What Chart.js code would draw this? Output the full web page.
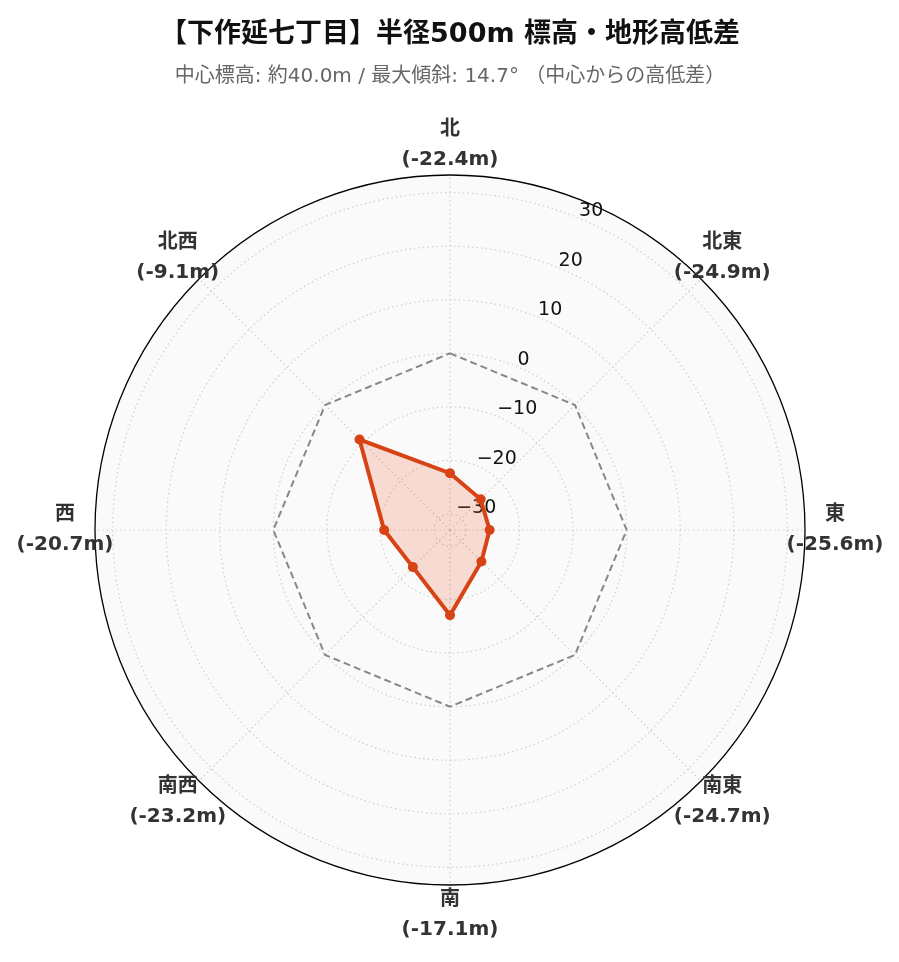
<!DOCTYPE html>
<html lang="ja">
<head>
<meta charset="utf-8">
<title>下作延七丁目 標高・地形高低差</title>
<script src="https://cdn.jsdelivr.net/npm/chart.js@4.4.1/dist/chart.umd.min.js"></script>
<style>
  html, body { margin: 0; padding: 0; background: #fff; }
  #wrap { width: 899px; height: 962px; }
</style>
</head>
<body>
<div id="wrap"><canvas id="radarChart"></canvas></div>
<script>
// 方角と中心からの高低差 (m)
const directions = ['北', '北東', '東', '南東', '南', '南西', '西', '北西'];
const heightDiffs = [-22.4, -24.9, -25.6, -24.7, -17.1, -23.2, -20.7, -9.1];
const baseLine = [0, 0, 0, 0, 0, 0, 0, 0];
const tickValues = [-30, -20, -10, 0, 10, 20, 30];
const rMin = -33;
const rMax = 33.3;

const FONT = '"DejaVu Sans", "Noto Sans CJK JP", sans-serif';

function tickText(v) {
    return v < 0 ? '\u2212' + Math.abs(v) : String(v);
}

// 目盛りラベル (22.5度の位置に描く)
const tickLabelPlugin = {
    id: 'tickLabels',
    beforeDatasetsDraw(chart) {
        const scale = chart.scales.r;
        const ctx = chart.ctx;
        ctx.save();
        ctx.font = '19px ' + FONT;
        ctx.fillStyle = '#111';
        ctx.textAlign = 'left';
        ctx.textBaseline = 'alphabetic';
        tickValues.forEach(v => {
            const p = scale.getPointPosition(0, scale.getDistanceFromCenterForValue(v), Math.PI / 8);
            ctx.fillText(tickText(v), p.x, p.y - 2);
        });
        ctx.restore();
    }
};

// 方角ラベル
const dirLabelPlugin = {
    id: 'dirLabels',
    afterDatasetsDraw(chart) {
        const scale = chart.scales.r;
        const ctx = chart.ctx;
        ctx.save();
        ctx.font = 'bold 20px ' + FONT;
        ctx.fillStyle = '#333';
        ctx.textAlign = 'center';
        ctx.textBaseline = 'middle';
        directions.forEach((d, i) => {
            const p = scale.getPointPosition(i, scale.drawingArea + 30);
            ctx.fillText(d, p.x, p.y - 15);
            ctx.fillText('(' + heightDiffs[i].toFixed(1) + 'm)', p.x, p.y + 15);
        });
        ctx.restore();
    }
};

const ctx = document.getElementById('radarChart').getContext('2d');
new Chart(ctx, {
    type: 'radar',
    data: {
        labels: directions,
        datasets: [
            {
                label: '高低差',
                data: heightDiffs,
                borderColor: '#d84315',
                backgroundColor: 'rgba(235, 80, 35, 0.18)',
                borderWidth: 4,
                pointRadius: 5,
                pointBackgroundColor: '#d84315',
                pointBorderWidth: 0,
                fill: 'start'
            },
            {
                label: '中心標高',
                data: baseLine,
                borderColor: '#888888',
                borderWidth: 2,
                borderDash: [7, 4],
                pointRadius: 0,
                fill: false
            }
        ]
    },
    options: {
        responsive: true,
        maintainAspectRatio: false,
        animation: false,
        layout: {
            padding: { top: 0, left: 95, right: 94, bottom: 77 }
        },
        plugins: {
            legend: { display: false },
            tooltip: { enabled: false },
            title: {
                display: true,
                text: '【下作延七丁目】半径500m 標高・地形高低差',
                color: '#111',
                font: { family: FONT, size: 27, weight: 'bold' },
                padding: { top: 18.8, bottom: 0 }
            },
            subtitle: {
                display: true,
                text: '中心標高: 約40.0m / 最大傾斜: 14.7° （中心からの高低差）',
                color: '#666',
                font: { family: FONT, size: 20 },
                padding: { top: 13.8, bottom: 86 }
            }
        },
        scales: {
            r: {
                min: rMin,
                max: rMax,
                startAngle: 0,
                backgroundColor: '#fafafa',
                afterBuildTicks: scale => {
                    scale.ticks = tickValues.concat([rMax]).map(v => ({ value: v }));
                },
                ticks: { display: false },
                pointLabels: { display: false },
                grid: {
                    circular: true,
                    color: c => c.tick && c.tick.value === rMax ? '#000' : '#cfcfcf',
                    lineWidth: c => c.tick && c.tick.value === rMax ? 1.3 : 1.2
                },
                border: {
                    dash: c => c.tick && c.tick.value === rMax ? [] : [1.5, 3]
                },
                angleLines: {
                    color: '#cfcfcf',
                    lineWidth: 1.2,
                    borderDash: [1.5, 3]
                }
            }
        }
    },
    plugins: [tickLabelPlugin, dirLabelPlugin]
});
</script>
</body>
</html>
